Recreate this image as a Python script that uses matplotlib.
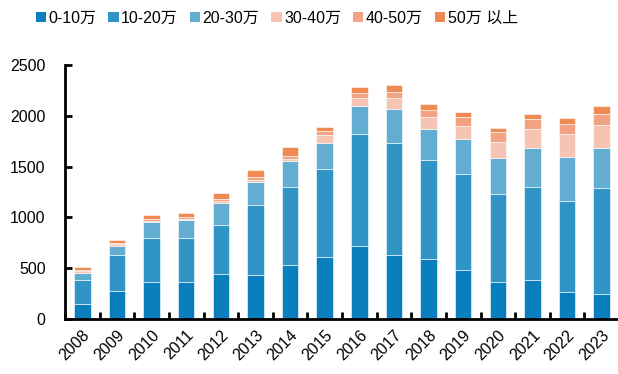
import matplotlib
matplotlib.use("Agg")
import matplotlib.pyplot as plt
from matplotlib.patches import Patch
from matplotlib.ticker import FixedLocator
import numpy as np

plt.rcParams['font.family'] = ['Liberation Sans', 'Noto Sans CJK SC', 'DejaVu Sans']

years = ['2008', '2009', '2010', '2011', '2012', '2013', '2014', '2015',
         '2016', '2017', '2018', '2019', '2020', '2021', '2022', '2023']
series_names = ['0-10万', '10-20万', '20-30万', '30-40万', '40-50万', '50万 以上']

s_0_10 = [150, 280, 368, 368, 443, 430, 532, 611, 723, 634, 595, 483, 368, 381, 270, 246]
s_10_20 = [230, 350, 430, 430, 480, 693, 768, 870, 1099, 1100, 971, 949, 860, 923, 896, 1044]
s_20_30 = [75, 93, 152, 177, 217, 230, 253, 253, 276, 329, 306, 338, 352, 380, 430, 394]
s_30_40 = [15, 13, 15, 14, 19, 20, 17, 75, 79, 111, 112, 128, 167, 188, 226, 227]
s_40_50 = [15, 13, 20, 16, 23, 26, 33, 43, 49, 62, 72, 86, 89, 95, 96, 108]
s_50_up = [30, 33, 39, 43, 59, 69, 91, 39, 59, 63, 56, 52, 45, 52, 62, 76]

colors = ['#0B7EBD', '#3194C7', '#63ADD3', '#F6C4B3', '#F2A384', '#EF8B52']

fig = plt.figure(figsize=(6.18, 3.74), dpi=100)
ax = fig.add_axes([65 / 618, 55 / 374, 554 / 618, 254 / 374])

x = np.arange(len(years))
bottom = np.zeros(len(years))
for vals, col in zip([s_0_10, s_10_20, s_20_30, s_30_40, s_40_50, s_50_up], colors):
    ax.bar(x, vals, width=0.48, bottom=bottom, color=col,
           edgecolor='white', linewidth=0.4, zorder=2)
    bottom += np.array(vals)

ax.set_xlim(-0.5, 15.5)
ax.set_ylim(0, 2500)
ax.set_yticks([0, 500, 1000, 1500, 2000, 2500])
ax.set_xticks(x)
ax.set_xticklabels(years, rotation=45, ha='right', rotation_mode='anchor', fontsize=11.5)
ax.xaxis.set_minor_locator(FixedLocator(np.arange(-0.5, 16, 1)))
ax.tick_params(axis='x', which='major', length=0, pad=6)
ax.tick_params(axis='x', which='minor', direction='in', length=5, width=2)
ax.tick_params(axis='y', direction='in', length=5, width=2, labelsize=11.5, pad=14)

for side in ['top', 'right']:
    ax.spines[side].set_visible(False)
for side in ['left', 'bottom']:
    ax.spines[side].set_linewidth(2)
    ax.spines[side].set_color('black')

handles = [Patch(facecolor=c, edgecolor='none') for c in colors]
fig.legend(handles, series_names, loc='upper left', bbox_to_anchor=(26 / 618, 0.997),
           ncol=6, frameon=False, fontsize=11.5, handlelength=0.65, handleheight=0.65,
           handletextpad=0.15, columnspacing=0.75, borderaxespad=0.2)

fig.savefig('out.png', dpi=100)
